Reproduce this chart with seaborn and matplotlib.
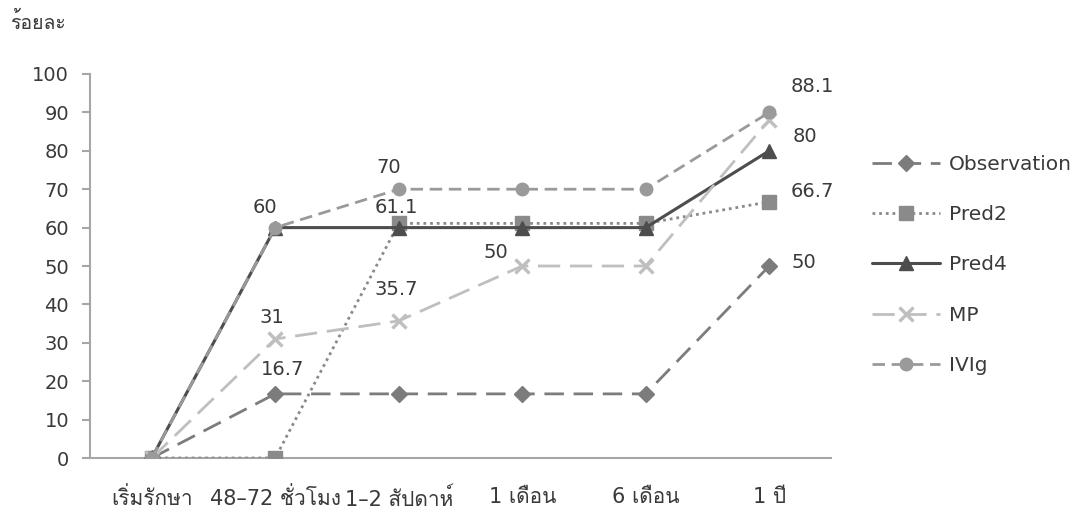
import numpy as np
import pandas as pd
import matplotlib
matplotlib.use("Agg")
import matplotlib.pyplot as plt
import matplotlib.font_manager as fm
from matplotlib.ft2font import FT2Font
import seaborn as sns

categories = ["เริ่มรักษา", "48–72 ชั่วโมง", "1–2 สัปดาห์", "1 เดือน", "6 เดือน", "1 ปี"]
series_names = ["Observation", "Pred2", "Pred4", "MP", "IVIg"]
observation = [0, 16.7, 16.7, 16.7, 16.7, 50]
pred2 = [0, 0, 61.1, 61.1, 61.1, 66.7]
pred4 = [0, 60, 60, 60, 60, 80]
mp = [0, 31, 35.7, 50, 50, 88.1]
ivig = [0, 60, 70, 70, 70, 90]
y_label = "ร้อยละ"
y_ticks = [0, 10, 20, 30, 40, 50, 60, 70, 80, 90, 100]

# find a font with Thai glyphs
thai_font = None
for f in fm.fontManager.ttflist:
    try:
        cm = FT2Font(f.fname).get_charmap()
        if 0x0E23 in cm and 0x0E01 in cm:
            thai_font = f.name
            break
    except Exception:
        pass

sns.set_theme(style="white")
fams = ["DejaVu Sans"]
if thai_font:
    fams = ["DejaVu Sans", thai_font]
plt.rcParams["font.family"] = fams

values = {"Observation": observation, "Pred2": pred2, "Pred4": pred4, "MP": mp, "IVIg": ivig}
rows = []
for name in series_names:
    for i, v in enumerate(values[name]):
        rows.append({"x": i, "y": v, "series": name})
df = pd.DataFrame(rows)

styles = {
    "Observation": dict(color="#7c7c7c", ls=(0, (7, 3.5)), marker="D", ms=8.5, lw=2.0),
    "Pred2": dict(color="#8a8a8a", ls=(0, (1, 1.4)), marker="s", ms=9.5, lw=2.0),
    "Pred4": dict(color="#4d4d4d", ls="-", marker="^", ms=9.5, lw=2.2),
    "MP": dict(color="#bfbfbf", ls=(0, (8, 3.5)), marker="x", ms=10, lw=2.0, mew=2.4),
    "IVIg": dict(color="#9a9a9a", ls=(0, (4.5, 2.4)), marker="o", ms=9, lw=2.0),
}

fig = plt.figure(figsize=(10.87, 5.14), dpi=100)
ax = fig.add_axes([90 / 1087, 56 / 514, 741 / 1087, 384 / 514])

for name in series_names:
    st = styles[name]
    sub = df[df["series"] == name]
    sns.lineplot(data=sub, x="x", y="y", ax=ax, color=st["color"], linestyle=st["ls"],
                 marker=st["marker"], markersize=st["ms"], linewidth=st["lw"],
                 markeredgecolor=st["color"], markeredgewidth=st.get("mew", 1.0),
                 label=name, legend=False, zorder=3)

ax.set_xlim(-0.5, len(categories) - 0.5)
ax.set_ylim(0, 100)
ax.set_yticks(y_ticks)
ax.set_xticks(range(len(categories)))
ax.set_xticklabels(categories)
ax.set_xlabel("")
ax.set_ylabel("")
txtc = "#3a3a3a"
ax.tick_params(axis="y", which="both", left=True, length=6, width=1.5, color="#a6a6a6",
               labelsize=14, labelcolor=txtc, pad=9)
ax.tick_params(axis="x", bottom=False, labelsize=15, labelcolor=txtc, pad=15)
for s in ["top", "right"]:
    ax.spines[s].set_visible(False)
for s in ["left", "bottom"]:
    ax.spines[s].set_color("#a6a6a6")
    ax.spines[s].set_linewidth(1.5)

fig.text(10 / 1087, 1 - 22 / 514, y_label, fontsize=14, color=txtc, va="center", ha="left")

# data labels: (series values, index, dx px, dy px)
labels = [
    (pred4, 1, -10, 20), (mp, 1, -3, 21), (observation, 1, 7, 24),
    (ivig, 2, -10, 22), (pred2, 2, -2, 16), (mp, 2, -3, 31),
    (mp, 3, -26, 13), (mp, 5, 43, 33), (pred4, 5, 36, 14),
    (pred2, 5, 43, 10), (observation, 5, 35, 4),
]
for arr, i, dx, dy in labels:
    v = arr[i]
    txt = f"{v:g}"
    ax.annotate(txt, xy=(i, v), xytext=(dx, dy), textcoords="offset pixels",
                ha="center", va="center", fontsize=14, color=txtc, zorder=5)

handles, labs = ax.get_legend_handles_labels()
fig.legend(handles, labs, loc="upper left", bbox_to_anchor=(872 / 1087, 1 - 155 / 514),
           frameon=False, fontsize=14.5, handlelength=3.4, labelspacing=1.55,
           handletextpad=0.4, labelcolor=txtc, borderaxespad=0, borderpad=0)

fig.savefig("out.png", dpi=100)
